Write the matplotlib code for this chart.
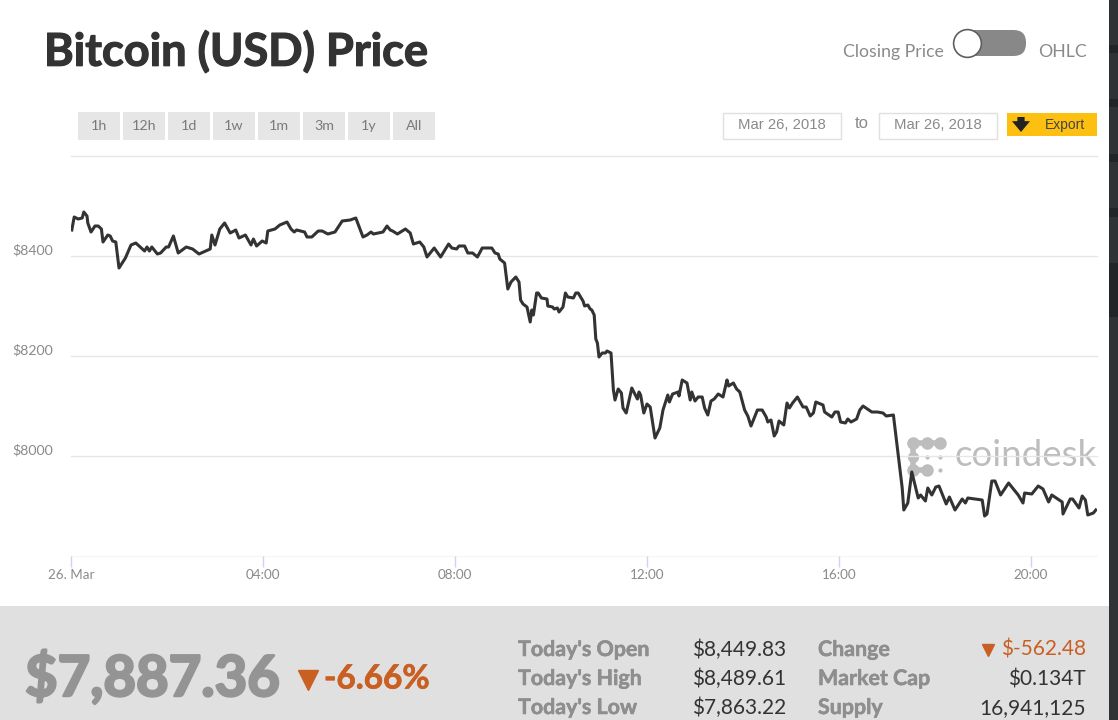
import matplotlib
matplotlib.use("Agg")
import matplotlib.pyplot as plt
import matplotlib.patheffects as pe
from matplotlib.patches import Rectangle, FancyBboxPatch

# minutes after midnight, 26 Mar 2018
minutes = [1, 4, 9, 14, 16, 20, 21, 25, 30, 34, 38, 40, 46, 49, 52, 56, 60, 68, 75, 81,
           88, 92, 95, 98, 101, 108, 112, 119, 122, 128, 134, 144, 152, 160, 174, 176, 180, 186, 192, 199,
           206, 210, 218, 225, 228, 232, 239, 244, 246, 255, 261, 270, 275, 279, 282, 292, 295, 301, 309, 314,
           321, 330, 339, 349, 356, 365, 370, 375, 378, 390, 395, 399, 402, 408, 418, 424, 428, 436, 441, 445,
           454, 462, 472, 476, 482, 485, 492, 496, 502, 508, 514, 526, 530, 534, 536, 542, 546, 550, 556, 560,
           562, 565, 570, 574, 576, 578, 582, 584, 588, 595, 596, 602, 604, 608, 610, 615, 618, 621, 628, 631,
           634, 640, 642, 646, 649, 651, 654, 656, 658, 660, 664, 668, 670, 675, 678, 680, 684, 688, 690, 694,
           701, 708, 710, 712, 716, 720, 724, 730, 736, 740, 746, 748, 752, 759, 760, 764, 770, 774, 776, 780,
           784, 789, 792, 796, 800, 804, 809, 815, 820, 822, 828, 832, 836, 842, 846, 850, 858, 864, 869, 871,
           875, 879, 882, 885, 891, 895, 898, 902, 908, 915, 919, 924, 928, 931, 940, 942, 951, 955, 959, 962,
           968, 971, 975, 982, 986, 990, 1001, 1008, 1015, 1019, 1028, 1039, 1041, 1046, 1051, 1059, 1062, 1068, 1071, 1076,
           1081, 1085, 1094, 1098, 1105, 1114, 1118, 1121, 1139, 1142, 1145, 1151, 1155, 1162, 1172, 1184, 1190, 1192, 1201, 1209,
           1215, 1222, 1226, 1239, 1240, 1249, 1252, 1260, 1264, 1268, 1271, 1278, 1281]
prices = [8452, 8478, 8474, 8476, 8488, 8480, 8466, 8448, 8460, 8460, 8454, 8428, 8442, 8440, 8430, 8428, 8376, 8396, 8422, 8426,
          8416, 8410, 8418, 8410, 8418, 8404, 8406, 8418, 8418, 8440, 8406, 8418, 8414, 8404, 8414, 8442, 8422, 8454, 8466, 8446,
          8452, 8436, 8442, 8422, 8434, 8420, 8430, 8426, 8450, 8454, 8462, 8468, 8454, 8448, 8452, 8448, 8438, 8438, 8450, 8450,
          8444, 8448, 8470, 8472, 8476, 8438, 8442, 8448, 8444, 8448, 8460, 8452, 8450, 8444, 8454, 8446, 8424, 8428, 8418, 8398,
          8416, 8398, 8424, 8416, 8414, 8420, 8420, 8406, 8406, 8398, 8416, 8416, 8406, 8404, 8394, 8386, 8334, 8348, 8358, 8348,
          8312, 8304, 8298, 8268, 8292, 8282, 8326, 8326, 8316, 8314, 8300, 8298, 8294, 8296, 8288, 8298, 8326, 8318, 8316, 8326,
          8326, 8310, 8300, 8302, 8294, 8292, 8282, 8234, 8226, 8198, 8206, 8206, 8210, 8206, 8132, 8112, 8134, 8126, 8096, 8086,
          8136, 8114, 8128, 8122, 8086, 8104, 8098, 8036, 8056, 8092, 8122, 8108, 8124, 8128, 8120, 8152, 8146, 8112, 8128, 8110,
          8118, 8118, 8096, 8082, 8110, 8114, 8124, 8118, 8152, 8140, 8146, 8134, 8128, 8092, 8080, 8060, 8092, 8092, 8078, 8068,
          8072, 8040, 8048, 8070, 8062, 8106, 8096, 8106, 8118, 8098, 8098, 8080, 8086, 8108, 8102, 8088, 8078, 8088, 8088, 8068,
          8066, 8074, 8068, 8074, 8092, 8100, 8088, 8088, 8086, 8080, 8082, 7936, 7892, 7906, 7968, 7916, 7922, 7910, 7936, 7922,
          7938, 7940, 7904, 7918, 7892, 7914, 7906, 7916, 7912, 7880, 7884, 7950, 7950, 7922, 7946, 7922, 7906, 7926, 7924, 7940,
          7934, 7908, 7922, 7908, 7884, 7914, 7914, 7896, 7920, 7912, 7882, 7886, 7892]

y_ticks = [8000, 8200, 8400]
grid_levels = [8000, 8200, 8400, 8600]
x_ticks = [0, 240, 480, 720, 960, 1200]
x_labels = ["26. Mar", "04:00", "08:00", "12:00", "16:00", "20:00"]
range_buttons = ["1h", "12h", "1d", "1w", "1m", "3m", "1y", "All"]
stat_names = ["Today's Open", "Today's High", "Today's Low"]
stat_values = ["$8,449.83", "$8,489.61", "$7,863.22"]
info_names = ["Change", "Market Cap", "Supply"]
info_values = ["$-562.48", "$0.134T", "16,941,125"]

W, H = 1118, 720
FONT = "Lato"
plt.rcParams["font.family"] = [FONT, "DejaVu Sans"]


def heavy(width, color):
    # the installed Lato stops at bold, so fatten it a little
    return [pe.withStroke(linewidth=width, foreground=color)]


fig = plt.figure(figsize=(W / 100, H / 100), dpi=100, facecolor="white")

# page furniture goes on a full size axes in pixel units
page = fig.add_axes([0, 0, 1, 1])
page.set_xlim(0, W)
page.set_ylim(H, 0)
page.axis("off")

page.add_patch(Rectangle((0, 606), 1109, 114, color="#e0e0e0", lw=0))
page.add_patch(Rectangle((1109, 0), 9, 720, color="#2f3335", lw=0))
for top, tall in [(45, 8), (99, 8), (154, 8), (208, 9), (263, 54)]:
    page.add_patch(Rectangle((1109, top), 9, tall, color="#222527", lw=0))

page.text(44, 52, "Bitcoin (USD) Price", fontsize=32.5, fontweight="bold", color="#333333", va="center",
          path_effects=heavy(0.9, "#333333"))

# closing price / OHLC switch
page.text(944, 52, "Closing Price", fontsize=12.7, color="#8a8a8a", ha="right", va="center")
page.text(1038, 52, "OHLC", fontsize=12.7, color="#8a8a8a", va="center")
page.add_patch(FancyBboxPatch((955, 30), 71, 26, boxstyle="round,pad=0,rounding_size=12.5", fc="#888888", ec="none"))
page.plot([967], [43], "o", ms=20, mfc="white", mec="#5f5f5f", mew=1.2)

# range buttons
for i, name in enumerate(range_buttons):
    left = 78 + i * 45
    page.add_patch(Rectangle((left, 112), 42, 28, color="#e6e6e6", lw=0))
    page.text(left + 21, 126, name, fontsize=10.3, color="#7a7a7a", ha="center", va="center")

# date boxes and export
for left in [723, 879]:
    page.add_patch(Rectangle((left, 113), 118, 26, fc="white", ec="#e0e0e0", lw=1))
    page.text(left + 59, 125, "Mar 26, 2018", fontsize=10.7, color="#8a8a8a", ha="center", va="center",
              family=["Liberation Sans"])
page.text(862, 124, "to", fontsize=12, color="#8a8a8a", ha="center", va="center", family=["Liberation Sans"])
page.add_patch(Rectangle((1007, 113), 90, 23, color="#fdc010", lw=0))
page.annotate("", xy=(1021, 132), xytext=(1021, 117),
              arrowprops=dict(arrowstyle="simple,tail_width=0.4,head_width=1.0,head_length=0.6", mutation_scale=13,
                              color="#222222", lw=0, shrinkA=0, shrinkB=0))
page.text(1065, 124.5, "Export", fontsize=10, color="#444444", ha="center", va="center", family=["Liberation Sans"])

# bottom panel
page.text(25, 678, "$7,887.36", fontsize=40.5, fontweight="bold", color="#949494", va="center",
          path_effects=heavy(1.8, "#949494"))
page.plot([308], [680], "v", ms=14, color="#c95f22")
page.text(324, 679, "-6.66%", fontsize=24, fontweight="bold", color="#c95f22", va="center",
          path_effects=heavy(0.5, "#c95f22"))
for i, row_y in enumerate([650, 679, 708]):
    page.text(518, row_y, stat_names[i], fontsize=15.4, fontweight="bold", color="#8e8e8e", va="center",
              path_effects=heavy(0.4, "#8e8e8e"))
    page.text(786, row_y, stat_values[i], fontsize=15, color="#333333", ha="right", va="center")
    page.text(818, row_y, info_names[i], fontsize=15.4, fontweight="bold", color="#8e8e8e", va="center",
              path_effects=heavy(0.4, "#8e8e8e"))
    page.text(1086, row_y, info_values[i], fontsize=15, ha="right", va="center",
              color="#c95f22" if i == 0 else "#333333")
page.plot([988], [650], "v", ms=9, color="#c95f22")

# watermark
page.text(954, 456, "coindesk", fontsize=26.5, color="#bdbdbd", va="center", zorder=5)
page.plot([913, 927, 940], [443, 443, 443], "-o", ms=8, lw=4, color="#bdbdbd", zorder=5)
page.plot([913, 913, 913], [443, 457, 470], "-o", ms=7, lw=4, color="#bdbdbd", zorder=5)
page.plot([913, 927], [470, 470], "-o", ms=8, lw=4, color="#bdbdbd", zorder=5)
page.plot([927, 940, 940], [457, 457, 470], "o", ms=2, color="#bdbdbd", zorder=5)

# price chart, on its own data scales
ax = fig.add_axes([71 / W, 1 - 556 / H, (1097 - 71) / W, 400 / H])
ax.patch.set_alpha(0)
ax.set_xlim(0, 1282.5)
ax.set_ylim(7800, 8600)
for side in ax.spines.values():
    side.set_visible(False)
for level in grid_levels:
    ax.axhline(level, color="#e6e6e6", lw=1, zorder=1, clip_on=False)
ax.axhline(7800, color="#f6f6f6", lw=1, zorder=1, clip_on=False)
ax.plot(minutes, prices, color="#333333", lw=2.2, solid_joinstyle="round", zorder=6)

ax.set_yticks(y_ticks)
ax.set_yticklabels([f"${v}" for v in y_ticks])
ax.tick_params(axis="y", length=0, pad=13, labelsize=10.2, labelcolor="#8a8a8a")
for label in ax.get_yticklabels():
    label.set_verticalalignment("bottom")
ax.set_xticks(x_ticks)
ax.set_xticklabels(x_labels)
ax.tick_params(axis="x", length=8, width=1, color="#ccd6eb", pad=1.5, labelsize=9.7, labelcolor="#8a8a8a")

fig.savefig("out.png", dpi=100)
